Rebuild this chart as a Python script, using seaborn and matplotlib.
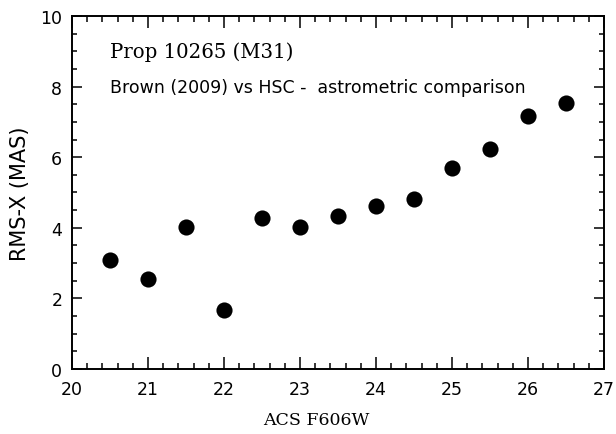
import matplotlib
matplotlib.use("Agg")
import matplotlib.pyplot as plt
from matplotlib.ticker import MultipleLocator
import seaborn as sns
import pandas as pd

mag = [20.5, 21.0, 21.5, 22.0, 22.5, 23.0, 23.5, 24.0, 24.5, 25.0, 25.5, 26.0, 26.5]
rms_x = [3.10, 2.55, 4.03, 1.68, 4.28, 4.03, 4.33, 4.63, 4.83, 5.68, 6.23, 7.18, 7.53]
title1 = "Prop 10265 (M31)"
title2 = "Brown (2009) vs HSC -  astrometric comparison"
xlabel = "ACS F606W"
ylabel = "RMS-X (MAS)"

df = pd.DataFrame({"mag": mag, "rms": rms_x})

sns.set_theme(style="ticks")
plt.rcParams["font.family"] = ["DejaVu Sans"]
plt.rcParams["text.color"] = "black"
plt.rcParams["axes.labelcolor"] = "black"

fig = plt.figure(figsize=(6.16, 4.35), dpi=100)
ax = fig.add_axes([72 / 616, 1 - 370 / 435, 532 / 616, 353 / 435])
sns.scatterplot(data=df, x="mag", y="rms", ax=ax, color="black", s=135,
                edgecolor="black", linewidth=0, legend=False)

ax.set_xlim(20, 27)
ax.set_ylim(0, 10)
ax.xaxis.set_major_locator(MultipleLocator(1))
ax.xaxis.set_minor_locator(MultipleLocator(0.2))
ax.yaxis.set_major_locator(MultipleLocator(2))
ax.yaxis.set_minor_locator(MultipleLocator(0.5))
ax.tick_params(which="both", direction="in", top=True, right=True,
               color="black", width=1.1, labelsize=12.5, labelcolor="black")
ax.tick_params(axis="x", which="major", length=8.5, pad=8)
ax.tick_params(axis="x", which="minor", length=4.3)
ax.tick_params(axis="y", which="major", length=7.2, pad=7)
ax.tick_params(axis="y", which="minor", length=3.6)
for sp in ax.spines.values():
    sp.set_linewidth(1.4)
    sp.set_color("black")

ax.set_xlabel(xlabel, fontsize=12.5, family="DejaVu Serif", color="black")
ax.set_ylabel(ylabel, fontsize=15, family="DejaVu Sans", color="black")
ax.xaxis.label.set_va("center")
ax.yaxis.label.set_va("center")
ax.xaxis.set_label_coords((316 - 72) / 532, -(421 - 370) / 353)
ax.yaxis.set_label_coords((20 - 72) / 532, 0.5)

ax.text(20.5, 9.0, title1, fontsize=14.2, family="DejaVu Serif", va="center",
        ha="left", color="black")
ax.text(20.5, 8.0, title2, fontsize=12.5, family="DejaVu Sans", va="center",
        ha="left", color="black")

fig.savefig("out.png", dpi=100)
